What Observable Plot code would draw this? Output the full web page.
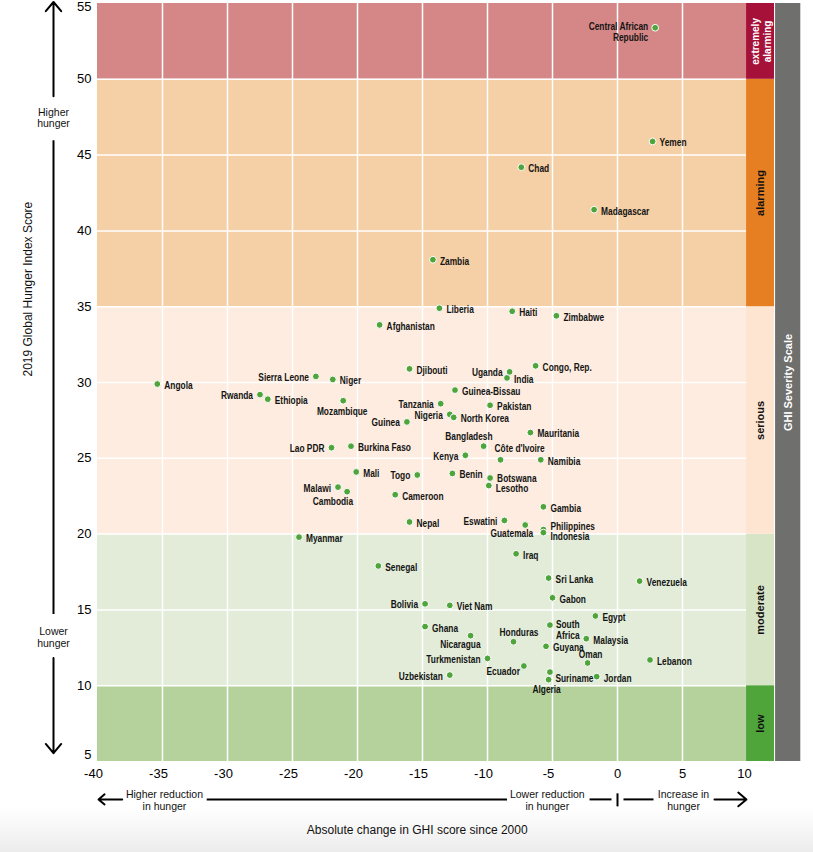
<!DOCTYPE html>
<html><head><meta charset="utf-8">
<script src="https://cdn.jsdelivr.net/npm/d3@7"></script>
<script src="https://cdn.jsdelivr.net/npm/@observablehq/plot@0.6"></script>
<style>
html,body{margin:0;padding:0;}
body{width:813px;height:852px;overflow:hidden;background:linear-gradient(to bottom,#ffffff 0,#ffffff 808px,#ececec 852px);}
</style></head><body><div id="chart"></div>
<script>
// ---- data ----
const countries = ["Central African\nRepublic","Yemen","Chad","Madagascar","Zambia","Liberia","Haiti","Zimbabwe","Afghanistan","Djibouti","Congo, Rep.","Uganda","India","Sierra Leone","Niger","Angola","Rwanda","Ethiopia","Mozambique","Guinea-Bissau","Tanzania","Pakistan","Nigeria","North Korea","Guinea","Mauritania","Bangladesh","Lao PDR","Burkina Faso","Kenya","Côte d'Ivoire","Namibia","Mali","Togo","Benin","Botswana","Lesotho","Malawi","Cambodia","Cameroon","Gambia","Nepal","Eswatini","Guatemala","Philippines","Indonesia","Myanmar","Iraq","Senegal","Sri Lanka","Venezuela","Gabon","Bolivia","Viet Nam","Egypt","Ghana","South\nAfrica","Nicaragua","Honduras","Malaysia","Guyana","Oman","Lebanon","Turkmenistan","Ecuador","Uzbekistan","Suriname","Algeria","Jordan"];
const change = [2.9,2.7,-7.4,-1.8,-14.2,-13.7,-8.1,-4.7,-18.3,-16.0,-6.3,-8.3,-8.5,-23.2,-21.9,-35.4,-27.5,-26.9,-21.1,-12.5,-13.6,-9.8,-12.9,-12.6,-16.2,-6.7,-10.3,-22.0,-20.5,-11.7,-9.0,-5.9,-20.1,-15.4,-12.7,-9.8,-9.9,-21.5,-20.8,-17.1,-5.7,-16.0,-8.7,-7.1,-5.7,-5.7,-24.5,-7.8,-18.4,-5.3,1.7,-5.0,-14.8,-12.9,-1.7,-14.8,-5.2,-11.3,-8.0,-2.4,-5.5,-2.3,2.5,-10.0,-7.2,-12.9,-5.2,-5.3,-1.6];
const score = [53.4,45.9,44.2,41.4,38.1,34.9,34.7,34.4,33.8,30.9,31.1,30.7,30.3,30.4,30.2,29.9,29.2,28.9,28.8,29.5,28.6,28.5,27.9,27.7,27.4,26.7,25.8,25.7,25.8,25.2,24.9,24.9,24.1,23.9,24.0,23.7,23.2,23.1,22.8,22.6,21.8,20.8,20.9,20.6,20.3,20.1,19.8,18.7,17.9,17.1,16.9,15.8,15.4,15.3,14.6,13.9,14.0,13.3,12.9,13.1,12.6,11.5,11.7,11.8,11.3,10.7,10.9,10.4,10.6];

const bandNames = ["low","moderate","serious","alarming","extremely\nalarming"];
const bandLow = [5,10,20,35,50];
const bandHigh = [10,20,35,50,55];

const xTicks = [-40,-35,-30,-25,-20,-15,-10,-5,0,5,10];
const yTicks = [5,10,15,20,25,30,35,40,45,50,55];

const yTitle = "2019 Global Hunger Index Score";
const xTitle = "Absolute change in GHI score since 2000";
const scaleTitle = "GHI Severity Scale";

// ---- styles ----
const bgColors = ["#b5d29d","#e2ecd8","#fdecdf","#f5cfa5","#d48786"];
const barColors = ["#4fa43a","#d7e4c5","#fde5d2","#e67f22","#a6113a"];
const labelFont = "Liberation Sans, Arial, sans-serif";
const sans = "'Liberation Sans',Arial,sans-serif";

// label placements: [textAnchor, dx, dy]
const R = ["start", 7, 1.5], L = ["end", -7, 1];
const place = {
  "Central African\nRepublic": ["end", -7, 4],
  "Uganda": L, "Sierra Leone": L, "Rwanda": L, "Tanzania": L, "Nigeria": L, "Guinea": L,
  "Kenya": L, "Lao PDR": L, "Togo": L, "Malawi": L, "Eswatini": L, "Bolivia": L,
  "Turkmenistan": L, "Uzbekistan": L,
  "Mozambique": ["middle", -1, 10.5],
  "Bangladesh": ["end", 9, -10],
  "Côte d'Ivoire": ["start", -6, -11],
  "Cambodia": ["end", 6, 9.5],
  "Guatemala": ["end", 8, 8.5],
  "Philippines": ["start", 7, -2.5],
  "Indonesia": ["start", 7, 4.3],
  "South\nAfrica": ["start", 6, 5],
  "Nicaragua": ["end", 10, 8.5],
  "Honduras": ["middle", 5.5, -9.5],
  "Oman": ["middle", 3, -8.6],
  "Ecuador": ["end", -4, 5.5],
  "Suriname": ["start", 5.5, 6.4],
  "Algeria": ["middle", -2, 9.7],
  "Botswana": ["start", 7, 0.3],
  "Lesotho": ["start", 7, 3.2]
};

const data = countries.map((c, i) => ({country: c, change: change[i], score: score[i]}));
const bands = bandNames.map((n, i) => ({name: n, y1: bandLow[i], y2: bandHigh[i], bg: bgColors[i], bar: barColors[i]}));

// annotation positions (data units)
const axX = -40, axDx = -44;     // vertical arrow column
const rowY = 2.5;                 // horizontal arrow row

const labelMarks = data.map(d => {
  const [anchor, dx, dy] = place[d.country] || R;
  return Plot.text([d], {x: "change", y: "score", text: "country", textAnchor: anchor, dx, dy,
    fontFamily: labelFont, fontWeight: "bold", fontSize: 10.2, fill: "#141414", lineHeight: 1.05});
});

const arrowStyle = {stroke: "black", strokeWidth: 2, headLength: 9, headAngle: 80};
const lineStyle = {stroke: "black", strokeWidth: 2};
const annFont = {fontFamily: sans, fontSize: 10.5, fill: "#111", lineHeight: 1.14};
const hyphen = d => String(d);

const chart = Plot.plot({
  width: 813, height: 852,
  marginLeft: 97, marginRight: 66, marginTop: 3, marginBottom: 91,
  x: {domain: [-40, 10]},
  y: {domain: [5, 55]},
  color: {type: "identity"},
  style: {fontFamily: sans, fontSize: "13px", background: "transparent", overflow: "visible"},
  marks: [
    Plot.rect(bands, {x1: -40, x2: 10, y1: "y1", y2: "y2", fill: "bg"}),
    Plot.ruleY(yTicks.filter(v => v > 5 && v < 55), {x1: -40, x2: 10, stroke: "white", strokeWidth: 1.5}),
    Plot.ruleX(xTicks.filter(v => v > -40 && v < 10), {y1: 5, y2: 55, stroke: "white", strokeWidth: 1.5}),
    Plot.rect(bands, {x1: 9.93, x2: 12.08, y1: "y1", y2: "y2", fill: "bar"}),
    Plot.rect([scaleTitle], {x1: 12.16, x2: 14.1, y1: 5, y2: 55, fill: "#6f6f6e"}),
    Plot.text(bands.filter(d => d.y1 < 50), {x: 11.0, y: d => (d.y1 + d.y2) / 2, text: "name", rotate: -90,
      fontFamily: sans, fontWeight: "bold", fontSize: 11, fill: "#111", style: "letter-spacing:0.3px"}),
    Plot.text(bands.filter(d => d.y1 >= 50), {x: 11.05, y: d => (d.y1 + d.y2) / 2, text: "name", rotate: -90,
      fontFamily: sans, fontWeight: "bold", fontSize: 10, fill: "white", lineHeight: 1.25}),
    Plot.text([scaleTitle], {x: 13.12, y: 30, text: d => d, rotate: -90, fontFamily: sans, fontWeight: "bold", fontSize: 11, fill: "white"}),

    Plot.axisX(xTicks.filter(v => v < 0), {tickSize: 0, tickPadding: 7, fontSize: 13, label: null, tickFormat: hyphen, dx: -4}),
    Plot.axisX(xTicks.filter(v => v >= 0 && v < 10), {tickSize: 0, tickPadding: 7, fontSize: 13, label: null, tickFormat: hyphen}),
    Plot.axisX(xTicks.filter(v => v >= 10), {tickSize: 0, tickPadding: 7, fontSize: 13, label: null, tickFormat: hyphen, dx: -3}),
    Plot.axisY(yTicks.filter(v => v > 5 && v < 55), {tickSize: 0, tickPadding: 6, fontSize: 13, label: null}),
    Plot.axisY(yTicks.filter(v => v >= 55), {tickSize: 0, tickPadding: 6, fontSize: 13, label: null, dy: 3.5}),
    Plot.axisY(yTicks.filter(v => v <= 5), {tickSize: 0, tickPadding: 6, fontSize: 13, label: null, dy: -7}),

    Plot.text([yTitle], {frameAnchor: "left", dx: -69, dy: -6, rotate: -90, fontFamily: sans, fontSize: 12, fill: "#111"}),
    Plot.text([xTitle], {x: -23.9, y: 0.47, textAnchor: "start", fontFamily: sans, fontSize: 12, fill: "#111"}),

    // vertical annotation arrows
    Plot.arrow([{y1: 48.88, y2: 55.1}], {x1: axX, x2: axX, y1: "y1", y2: "y2", dx: axDx, ...arrowStyle}),
    Plot.link([{y1: 45.98, y2: 14.73}], {x1: axX, x2: axX, y1: "y1", y2: "y2", dx: axDx, ...lineStyle}),
    Plot.arrow([{y1: 11.82, y2: 5.55}], {x1: axX, x2: axX, y1: "y1", y2: "y2", dx: axDx, ...arrowStyle}),
    Plot.text(["Higher\nhunger"], {x: axX, y: 47.47, dx: axDx, ...annFont}),
    Plot.text(["Lower\nhunger"], {x: axX, y: 13.23, dx: axDx, ...annFont}),

    // horizontal annotation arrows
    Plot.arrow([{x1: -38.1, x2: -39.92}], {x1: "x1", x2: "x2", y1: rowY, y2: rowY, ...arrowStyle}),
    Plot.link([{x1: -31.6, x2: -8.5}, {x1: -2.15, x2: -0.46}, {x1: 0.46, x2: 2.77}], {x1: "x1", x2: "x2", y1: rowY, y2: rowY, ...lineStyle}),
    Plot.link([0], {x1: 0, x2: 0, y1: 2.9, y2: 2.04, ...lineStyle}),
    Plot.arrow([{x1: 7.46, x2: 9.92}], {x1: "x1", x2: "x2", y1: rowY, y2: rowY, ...arrowStyle}),
    Plot.text(["Higher reduction\nin hunger"], {x: -34.85, y: 2.47, ...annFont}),
    Plot.text(["Lower reduction\nin hunger"], {x: -5.4, y: 2.47, ...annFont}),
    Plot.text(["Increase in\nhunger"], {x: 5.08, y: 2.47, ...annFont}),

    // data
    Plot.dot(data, {x: "change", y: "score", r: 3.4, fill: "#50a43c", stroke: "white", strokeWidth: 1}),
    ...labelMarks
  ]
});
// condense the country labels horizontally (no narrow font installed)
chart.querySelectorAll(`g[font-family="${labelFont}"] text`).forEach(t => {
  t.setAttribute("transform", (t.getAttribute("transform") || "") + " scale(0.82,1)");
});
document.getElementById("chart").appendChild(chart);
</script></body></html>
